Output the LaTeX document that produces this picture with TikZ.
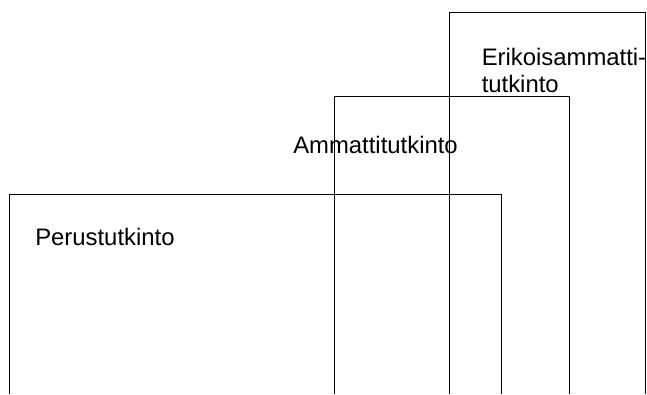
\documentclass[tikz,border=0pt]{standalone}
\usepackage{fontspec}
\setmainfont{Liberation Sans}
\begin{document}
\begin{tikzpicture}[x=0.75pt,y=-0.75pt,
  box/.style={draw,line width=0.75pt},
  label/.style={font=\fontsize{17.9pt}{20.5pt}\selectfont,inner sep=0pt,anchor=base west}]
\useasboundingbox (0,0) rectangle (647,394);
\path[box] (9.5,394) -- (9.5,194) -- (501,194) -- (501,394);
\path[box] (334.5,394) -- (334.5,96) -- (569.5,96) -- (569.5,394);
\path[box] (449,394) -- (449,12) -- (645,12) -- (645,394);
\node[label] (perus) at (35,245) {Perustutkinto};
\node[label] (ammatti) at (293,153.3) {Ammattitutkinto};
\node[label] (erikois1) at (481.5,65) {Erikoisammatti-};
\node[label] (erikois2) at (481.5,92) {tutkinto};
\end{tikzpicture}
\end{document}
